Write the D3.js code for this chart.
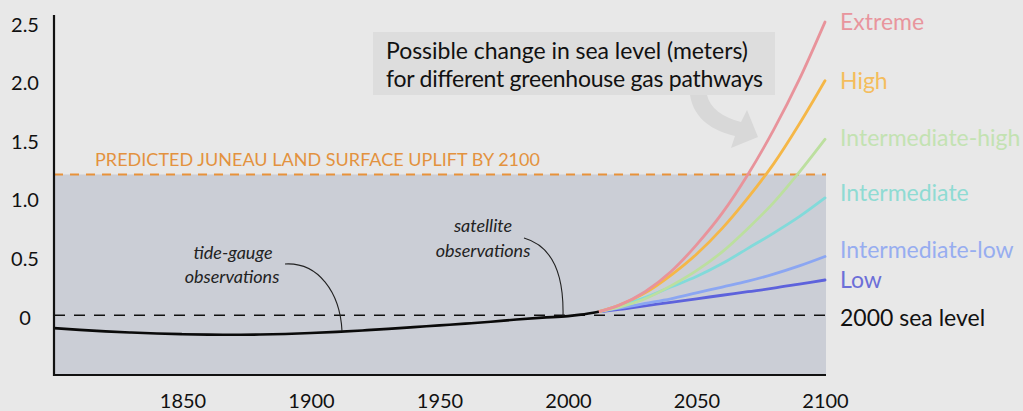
<!DOCTYPE html>
<html>
<head>
<meta charset="utf-8">
<script src="https://cdn.jsdelivr.net/npm/d3@7"></script>
<style>
  html, body { margin: 0; padding: 0; background: #e8e8e8; }
  svg { display: block; font-family: Lato, "Open Sans", sans-serif; }
</style>
</head>
<body>
<svg id="chart" width="1023" height="411"></svg>
<script>
// ---------- data ----------
const obsYears  = [1800, 1810, 1820, 1830, 1840, 1850, 1860, 1870, 1880, 1890, 1900, 1910, 1920, 1930, 1940, 1950, 1960, 1970, 1980, 1990, 2000, 2005, 2012];
const obsValues = [-0.11, -0.125, -0.138, -0.148, -0.156, -0.162, -0.166, -0.167, -0.165, -0.16, -0.152, -0.142, -0.13, -0.117, -0.102, -0.087, -0.072, -0.056, -0.037, -0.021, -0.008, 0.005, 0.03];

const projYears = [2012, 2020, 2030, 2040, 2050, 2060, 2070, 2080, 2090, 2100];
const scenarioNames = ["Extreme", "High", "Intermediate-high", "Intermediate", "Intermediate-low", "Low"];
const extremeVals   = [0.03, 0.086, 0.20, 0.37, 0.60, 0.87, 1.20, 1.58, 2.01, 2.50];
const highVals      = [0.03, 0.087, 0.19, 0.34, 0.52, 0.74, 1.00, 1.29, 1.63, 2.00];
const intHighVals   = [0.03, 0.068, 0.14, 0.25, 0.38, 0.54, 0.74, 0.96, 1.22, 1.50];
const intermVals    = [0.03, 0.08, 0.15, 0.24, 0.33, 0.44, 0.57, 0.70, 0.84, 1.00];
const intLowVals    = [0.03, 0.06, 0.10, 0.14, 0.19, 0.24, 0.29, 0.35, 0.42, 0.50];
const lowVals       = [0.03, 0.05, 0.08, 0.11, 0.14, 0.17, 0.20, 0.23, 0.265, 0.30];
const scenarioValues = [extremeVals, highVals, intHighVals, intermVals, intLowVals, lowVals];

const upliftValue = 1.2;
const seaLevel2000 = 0;
const yTicks = [0, 0.5, 1.0, 1.5, 2.0, 2.5];
const xTicks = [1850, 1900, 1950, 2000, 2050, 2100];

// ---------- styles ----------
const lineColors  = ["#e8939b", "#f5b747", "#bcdf9f", "#82dada", "#8ba6f2", "#5d62dc"];
const labelColors = ["#e8959d", "#f4bd5d", "#c3e2b2", "#8fdbd3", "#97adf0", "#6c6fd8"];
const labelDy     = [0, 0, -1, -5, -7, 0];

const svg = d3.select("#chart");
const W = 1023, H = 411;
const x = d3.scaleLinear().domain([1800, 2100]).range([54, 825]);
const y = d3.scaleLinear().domain([-0.51, 2.5]).range([375, 22]);

svg.append("rect").attr("width", W).attr("height", H).attr("fill", "#e8e8e8");

// shaded area below uplift
svg.append("rect")
  .attr("x", x(1800)).attr("y", y(upliftValue))
  .attr("width", x(2100) - x(1800) + 1).attr("height", y(-0.51) - y(upliftValue))
  .attr("fill", "#cbced6");

// uplift dashed line
svg.append("line")
  .attr("x1", x(1800)).attr("x2", x(2100) + 1)
  .attr("y1", y(upliftValue)).attr("y2", y(upliftValue))
  .attr("stroke", "#e8923a").attr("stroke-width", 2).attr("stroke-dasharray", "9,7");

svg.append("text")
  .attr("x", 95).attr("y", y(upliftValue) - 8)
  .attr("fill", "#e3923e").attr("font-size", 18)
  .attr("textLength", 445).attr("lengthAdjust", "spacing")
  .text("PREDICTED JUNEAU LAND SURFACE UPLIFT BY 2100");

// zero dashed line
svg.append("line")
  .attr("x1", x(1800)).attr("x2", x(2100))
  .attr("y1", y(seaLevel2000)).attr("y2", y(seaLevel2000))
  .attr("stroke", "#111").attr("stroke-width", 1.6).attr("stroke-dasharray", "11,9");

// projections
const projLine = d3.line().x((d, i) => x(projYears[i])).y(d => y(d)).curve(d3.curveMonotoneX);
scenarioValues.slice().reverse().forEach((vals, ri) => {
  const i = scenarioValues.length - 1 - ri;
  svg.append("path")
    .attr("d", projLine(vals))
    .attr("fill", "none")
    .attr("stroke", lineColors[i])
    .attr("stroke-width", 2.8)
    .attr("stroke-linecap", "round");
});

// observed line
const obsLine = d3.line().x((d, i) => x(obsYears[i])).y(d => y(d)).curve(d3.curveMonotoneX);
svg.append("path")
  .attr("d", obsLine(obsValues))
  .attr("fill", "none").attr("stroke", "#0a0a0a").attr("stroke-width", 2.6);

// scenario labels
scenarioNames.forEach((name, i) => {
  const vals = scenarioValues[i];
  svg.append("text")
    .attr("x", 840).attr("y", y(vals[vals.length - 1]) + labelDy[i])
    .attr("dy", "0.35em")
    .attr("fill", labelColors[i]).attr("font-size", 23)
    .text(name);
});
svg.append("text")
  .attr("x", 840).attr("y", y(seaLevel2000) + 3).attr("dy", "0.35em")
  .attr("fill", "#111").attr("font-size", 23)
  .text("2000 sea level");

// axes
const yAxis = d3.axisLeft(y).tickValues(yTicks).tickSize(0)
  .tickFormat(d => d === 0 ? "0" : d3.format(".1f")(d));
const gy = svg.append("g").attr("transform", `translate(${x(1800)},0)`).call(yAxis);
gy.select(".domain").remove();
gy.selectAll("text")
  .attr("x", 25 - x(1800)).attr("text-anchor", "middle").attr("dy", "0.45em")
  .attr("font-size", 20).attr("fill", "#111").attr("font-family", "Lato, sans-serif");

const xAxis = d3.axisBottom(x).tickValues(xTicks).tickSize(0).tickFormat(d3.format("d")).tickPadding(19);
const gx = svg.append("g").attr("transform", `translate(0,${y(-0.51)})`).call(xAxis);
gx.select(".domain").remove();
gx.selectAll("text").attr("font-size", 20).attr("fill", "#111").attr("font-family", "Lato, sans-serif");

svg.append("line").attr("x1", x(1800)).attr("x2", x(1800)).attr("y1", 15).attr("y2", y(-0.51) + 1)
  .attr("stroke", "#111").attr("stroke-width", 2.2);
svg.append("line").attr("x1", x(1800) - 1).attr("x2", x(2100) + 1).attr("y1", y(-0.51)).attr("y2", y(-0.51))
  .attr("stroke", "#111").attr("stroke-width", 2.2);

// annotation box
svg.append("rect").attr("x", 373).attr("y", 32).attr("width", 402).attr("height", 63)
  .attr("fill", "#dddddd");
svg.append("text").attr("x", 386).attr("y", 59).attr("font-size", 23).attr("fill", "#111")
  .attr("textLength", 362).attr("lengthAdjust", "spacing")
  .text("Possible change in sea level (meters)");
svg.append("text").attr("x", 386).attr("y", 87).attr("font-size", 23).attr("fill", "#111")
  .attr("textLength", 377).attr("lengthAdjust", "spacing")
  .text("for different greenhouse gas pathways");

// big arrow
svg.append("path")
  .attr("d", "M690,95 C694,120 714,131 735,136 L731,148 L758,137 L747,110 L741,122 C722,117 710,108 707,95 Z")
  .attr("fill", "#d8d8d8");

// observation annotations
const ann = svg.append("g").attr("font-style", "italic").attr("font-size", 18).attr("fill", "#222").attr("text-anchor", "middle");
ann.append("text").attr("x", 233).attr("y", 259).text("tide-gauge");
ann.append("text").attr("x", 232).attr("y", 283).text("observations");
ann.append("text").attr("x", 483).attr("y", 232).text("satellite");
ann.append("text").attr("x", 483).attr("y", 257).text("observations");

svg.append("path").attr("d", "M285,264 C318,262 340,292 342,331")
  .attr("fill", "none").attr("stroke", "#222").attr("stroke-width", 1.1);
svg.append("path").attr("d", "M524,238 C552,246 564,272 563,316")
  .attr("fill", "none").attr("stroke", "#222").attr("stroke-width", 1.1);
</script>
</body>
</html>
